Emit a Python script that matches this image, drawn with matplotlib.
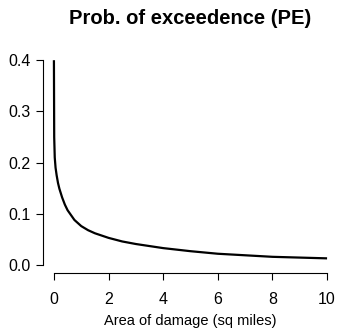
"""Probability of exceedance curve, R base-graphics look."""

import matplotlib
matplotlib.use("Agg")
from matplotlib import pyplot as plt

# values
area = [0, 0.01, 0.03, 0.06, 0.1, 0.15, 0.2, 0.3, 0.4, 0.5, 0.75, 1,
        1.25, 1.5, 2, 2.5, 3, 4, 5, 6, 7, 8, 9, 10]
prob = [0.40, 0.25, 0.21, 0.19, 0.175, 0.16, 0.149, 0.132, 0.118, 0.107,
        0.088, 0.076, 0.068, 0.062, 0.053, 0.046, 0.041, 0.033, 0.027,
        0.022, 0.019, 0.016, 0.0145, 0.013]
x_ticks = [0, 2, 4, 6, 8, 10]
y_ticks = [0.0, 0.1, 0.2, 0.3, 0.4]

plt.rcParams["font.family"] = ["Liberation Sans", "DejaVu Sans"]

W, H = 337, 332
fig = plt.figure(figsize=(W / 100, H / 100), dpi=100)
left, right, top, bottom = 43, 338, 52, 273
ax = fig.add_axes([left / W, 1 - bottom / H, (right - left) / W, (bottom - top) / H])

ax.plot(area, prob, color="black", lw=1.6, solid_capstyle="butt")
ax.set_xlim(-0.4, 10.4)
ax.set_ylim(-0.0156, 0.416)

ax.set_xticks(x_ticks)
ax.set_xticklabels([str(t) for t in x_ticks])
ax.set_yticks(y_ticks)
ax.set_yticklabels([f"{t:.1f}" for t in y_ticks])
ax.tick_params(length=5, width=0.8, pad=4, labelsize=11.5, colors="black")
ax.tick_params(axis="x", pad=9)

for side in ("top", "right"):
    ax.spines[side].set_visible(False)
ax.spines["left"].set_bounds(0, 0.4)
ax.spines["bottom"].set_bounds(0, 10)
for side in ("left", "bottom"):
    ax.spines[side].set_linewidth(0.8)

ax.set_xlabel("Area of damage (sq miles)", fontsize=10.5, labelpad=5)
fig.text((left + right) / 2 / W, 1 - 24 / H, "Prob. of exceedence (PE)",
         ha="center", va="baseline", fontsize=14.5, fontweight="bold")

fig.savefig("out.png", dpi=100)
